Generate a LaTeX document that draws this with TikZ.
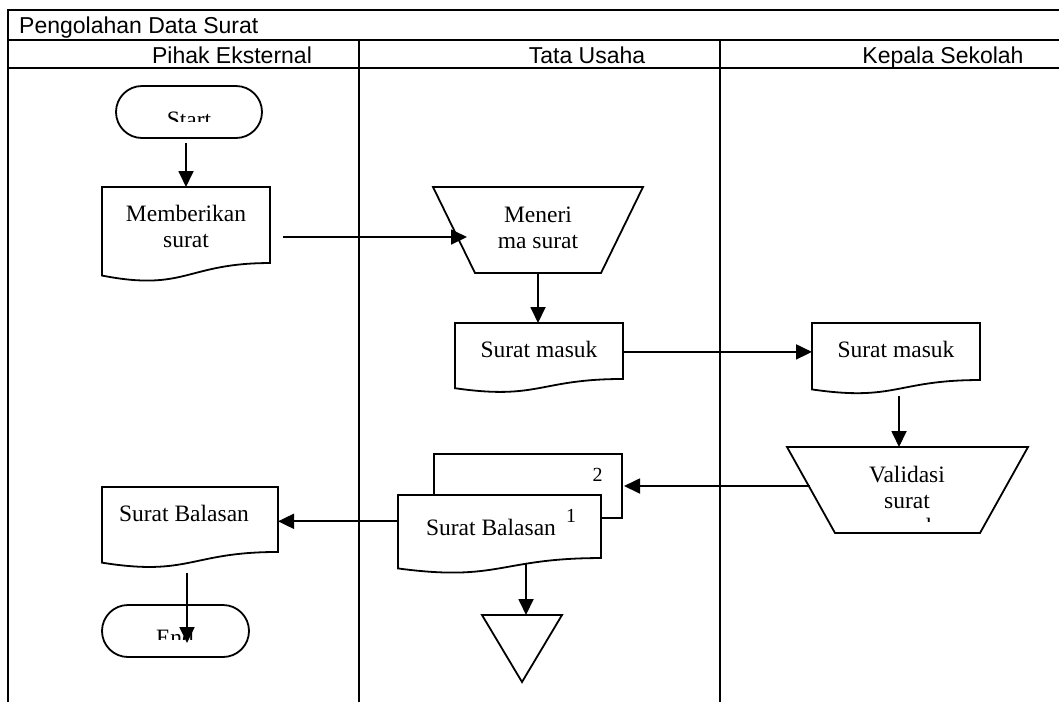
\documentclass[tikz,border=0pt]{standalone}
\usepackage{fontspec}
\setmainfont{Liberation Serif}
\newfontfamily\arialfont{Liberation Sans}
\usetikzlibrary{arrows.meta,calc}

\tikzset{
  frame/.style={line width=2.6pt},
  shapeline/.style={line width=1.8pt},
  conn/.style={line width=1.8pt, -{Triangle[length=16pt,width=15pt]}},
  box/.style={draw=none, inner sep=0pt, outer sep=0pt, anchor=north west},
  term/.style={shapeline, draw, rounded corners=26pt, inner sep=0pt, outer sep=0pt, anchor=north west},
  lbl/.style={font=\fontsize{23.5}{26}\selectfont, align=center, inner sep=0pt, anchor=base},
  hdr/.style={font=\arialfont\fontsize{23}{26}\selectfont, inner sep=0pt, anchor=base},
  supnum/.style={font=\fontsize{20}{22}\selectfont, inner sep=0pt, anchor=base},
}

% invisible frame node: name, left, top, right, bottom (pixel units, y downwards)
\newcommand\boxat[5]{\node[box, minimum width={(#4-#2)*1pt}, minimum height={(#5-#3)*1pt}] (#1) at (#2,#3) {};}
% document symbol with wavy lower edge
\newcommand\docoutline[1]{\draw[shapeline, fill=white] (#1.north west) -- (#1.north east)
  -- ($(#1.north east)!0.802!(#1.south east)$)
  .. controls ($(#1.north)!0.802!(#1.south)$) and ($(#1.north)!1.107!(#1.south)$)
  .. ($(#1.north west)!0.934!(#1.south west)$) -- cycle;}
% manual operation symbol: name, inset of the lower corners
\newcommand\trapoutline[2]{\draw[shapeline] (#1.north west) -- (#1.north east)
  -- ([xshift=-#2pt]#1.south east) -- ([xshift=#2pt]#1.south west) -- cycle;}

\begin{document}
\begin{tikzpicture}[x=1pt, y=-1pt]
\useasboundingbox[fill=white] (0,0) rectangle (1059,702);

% swimlane frame
\draw[frame] (8,702) -- (8,10) -- (1059,10);
\draw[frame] (8,40) -- (1059,40);
\draw[frame] (8,68) -- (1059,68);
\draw[frame] (359,40) -- (359,702);
\draw[frame] (720,40) -- (720,702);

\node[hdr, anchor=base west] (title) at (19,33) {Pengolahan Data Surat};
\node[hdr] (lane1) at (232,63) {Pihak Eksternal};
\node[hdr] (lane2) at (587,63) {Tata Usaha};
\node[hdr] (lane3) at (943,63) {Kepala Sekolah};

% terminals
\node[term, minimum width=146pt, minimum height=52pt] (startterm) at (116,86) {};
\begin{scope}
  \clip (116,86) rectangle (262,121);
  \node[lbl] (starttxt) at (189,127.6) {Start};
\end{scope}
\node[term, minimum width=147pt, minimum height=52pt] (endterm) at (102,605) {};
\begin{scope}
  \clip (102,605) rectangle (249,639);
  \node[lbl] (endtxt) at (175,645.6) {End};
\end{scope}

% documents (the base of a multi-line label is its last line)
\boxat{mem}{102}{187}{270}{281.8}
\docoutline{mem}
\node[lbl] (memtxt) at (186,247) {Memberikan\\surat};

\boxat{tum}{455}{323}{623}{392.8}
\docoutline{tum}
\node[lbl] (tumtxt) at (539,357) {Surat masuk};

\boxat{ksm}{812}{323}{980}{394.1}
\docoutline{ksm}
\node[lbl] (ksmtxt) at (896,357) {Surat masuk};

\boxat{pes}{102}{487}{278}{568}
\docoutline{pes}
\node[lbl] (pestxt) at (184,521) {Surat Balasan};

\boxat{sbtwo}{434}{454}{622}{518}
\draw[shapeline, fill=white] (sbtwo.north west) rectangle (sbtwo.south east);
\node[supnum] (sbtwonum) at (597.5,481) {2};
\boxat{sbone}{398}{495}{601}{573.6}
\docoutline{sbone}
\node[lbl] (sbonetxt) at (491,535) {Surat Balasan};
\node[supnum] (sbonenum) at (571,522) {1};

% manual operations
\boxat{mer}{433}{187}{643}{273}
\trapoutline{mer}{42}
\node[lbl] (mertxt) at (538,248) {Meneri\\ma surat};

\boxat{val}{787}{447}{1028}{533}
\trapoutline{val}{48}
\begin{scope}
  \clip (787,440) rectangle (1028,521);
  \node[lbl] (valtxt) at (907,534) {Validasi\\surat\\masuk};
\end{scope}

% storage
\boxat{tri}{482}{615}{562}{682}
\draw[shapeline] (tri.north west) -- (tri.north east) -- (tri.south) -- cycle;

% connectors
\coordinate (s1) at ([yshift=-5pt]startterm.south);
\draw[conn] (s1 -| mem.north) -- (mem.north);
\draw[conn] ([xshift=13pt,yshift=-2.6pt]mem.east) -- ([xshift=34pt,yshift=-7pt]mer.west);
\draw[conn] (mer.south) -- (mer.south |- tum.north);
\coordinate (t1) at ([yshift=6pt]tum.east);
\draw[conn] (t1) -- (t1 -| ksm.west);
\coordinate (k1) at ([xshift=3pt,yshift=-2pt]ksm.south);
\draw[conn] (k1) -- (k1 |- val.north);
\coordinate (v1) at ([xshift=23pt,yshift=1pt]val.west);
\draw[conn] (v1 |- sbtwo.east) -- ([xshift=2pt]sbtwo.east);
\coordinate (b1) at ([yshift=13pt]sbone.west);
\draw[conn] (b1) -- (b1 -| pes.east);
\coordinate (b2) at ([xshift=26.5pt,yshift=10pt]sbone.south);
\draw[conn] (b2) -- (b2 |- tri.north);
\coordinate (p1) at ([xshift=-3pt,yshift=-5pt]pes.south);
\coordinate (e1) at ([yshift=-12pt]endterm.center);
\draw[conn] (p1) -- (p1 |- e1);
\end{tikzpicture}
\end{document}
